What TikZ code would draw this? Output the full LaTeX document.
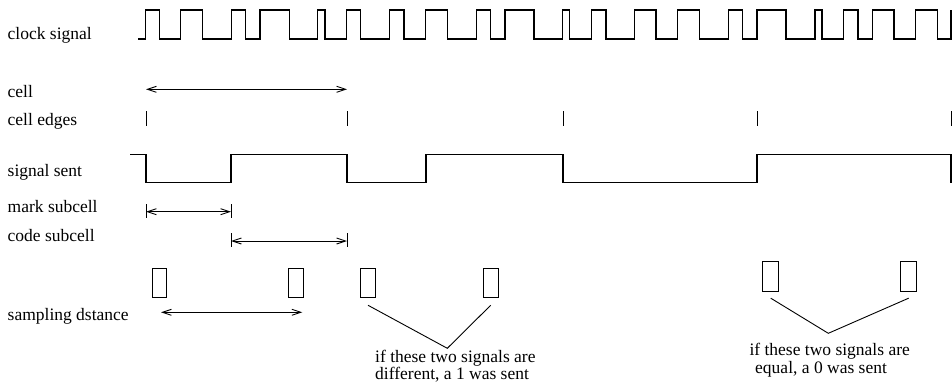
\documentclass[tikz,border=0pt]{standalone}
\usepackage{fontspec}
\setmainfont{Liberation Serif}
\usetikzlibrary{arrows.meta}
\begin{document}
\begin{tikzpicture}[x=1pt,y=-1pt,
  lbl/.style={anchor=base west, inner sep=0pt, font=\fontsize{17.5}{20}\selectfont},
  wave/.style={line width=1.3pt, line join=miter},
  edgetick/.style={line width=1pt},
  dim/.style={line width=0.9pt, {Straight Barb[length=9pt,width=6pt]}-{Straight Barb[length=9pt,width=6pt]}},
  sample/.style={draw, line width=0.9pt, inner sep=0pt},
  smallbox/.style={sample, minimum width=14.5pt, minimum height=29pt},
  bigbox/.style={sample, minimum width=16pt, minimum height=30pt},
  pointer/.style={line width=0.9pt}]
\useasboundingbox (0,0) rectangle (952,391);

% row labels
\node[lbl] (lclock) at (7.5,39)    {clock signal};
\node[lbl] (lcell)  at (7.5,97.3)  {cell};
\node[lbl] (ledges) at (7.5,125)   {cell edges};
\node[lbl] (lsent)  at (7.5,176.7) {signal sent};
\node[lbl] (lmark)  at (7.5,212.7) {mark subcell};
\node[lbl] (lcode)  at (7.5,241.7) {code subcell};
\node[lbl] (lsamp)  at (7.5,320)   {sampling dstance};

% clock signal: rising/falling edge pairs
\draw[wave] (138,39)
  foreach \r/\f in {145.7/159.3, 180.7/202.3, 231.3/245.7, 260/289.3, 317.7/325,
                    346.3/360.7, 389.3/404, 425.3/447.3, 476.3/490.7, 505/534,
                    562.7/569.7, 591.7/606, 634.7/656, 677.7/699.3, 728.3/742.7,
                    757/786, 815/822, 843.3/858, 872.3/894, 915.7/937.3}
  { -- (\r,39) -- (\r,10) -- (\f,10) -- (\f,39) }
  -- (951,39) -- (951,10);

% cell edges
\foreach \x [count=\i] in {146,347,563,757,951} {
  \coordinate (edge\i) at (\x,0);
  \draw[edgetick] (\x,111) -- (\x,125.5);
}

% one cell
\draw[dim] (146,89.3) -- (347,89.3);

% transmitted signal
\draw[wave] (130,154.3) -- (146,154.3) -- (146,182.7) -- (231,182.7)
  -- (231,154.3) -- (347,154.3) -- (347,182.7) -- (426,182.7)
  -- (426,154.3) -- (563,154.3) -- (563,182.7) -- (757,182.7)
  -- (757,154.3) -- (951,154.3) -- (951,182.7);

% mark subcell
\draw[edgetick] (146,204) -- (146,218);
\draw[edgetick] (231,204) -- (231,218);
\draw[dim] (146,211.7) -- (231,211.7);

% code subcell
\draw[edgetick] (231,233) -- (231,247);
\draw[edgetick] (347,233) -- (347,247);
\draw[dim] (231,241) -- (347,241);

% sampling windows
\node[smallbox] (s1) at (159.5,283.3) {};
\node[smallbox] (s2) at (296,283.3) {};
\node[smallbox] (s3) at (368,283.3) {};
\node[smallbox] (s4) at (490.7,283.3) {};
\node[bigbox]   (s5) at (770.7,276.7) {};
\node[bigbox]   (s6) at (908.7,276.7) {};

% sampling distance
\draw[dim] (161,312.3) -- (302.3,312.3);

% comparison of two samples: different
\coordinate (apexA) at (447.3,348.3);
\draw[pointer] ([yshift=-7pt]s3.south) -- (apexA) -- ([yshift=-7pt]s4.south);
\node[lbl] (ta1) at (375,362.7) {if these two signals are};
\node[lbl] (ta2) at (375,379.5) {different, a 1 was sent};

% comparison of two samples: equal
\coordinate (apexB) at (828.3,333.3);
\draw[pointer] ([yshift=-6pt]s5.south) -- (apexB) -- ([yshift=-6pt]s6.south);
\node[lbl] (tb1) at (749.3,355.3) {if these two signals are};
\node[lbl] (tb2) at (755,373.3) {equal, a 0 was sent};
\end{tikzpicture}
\end{document}
